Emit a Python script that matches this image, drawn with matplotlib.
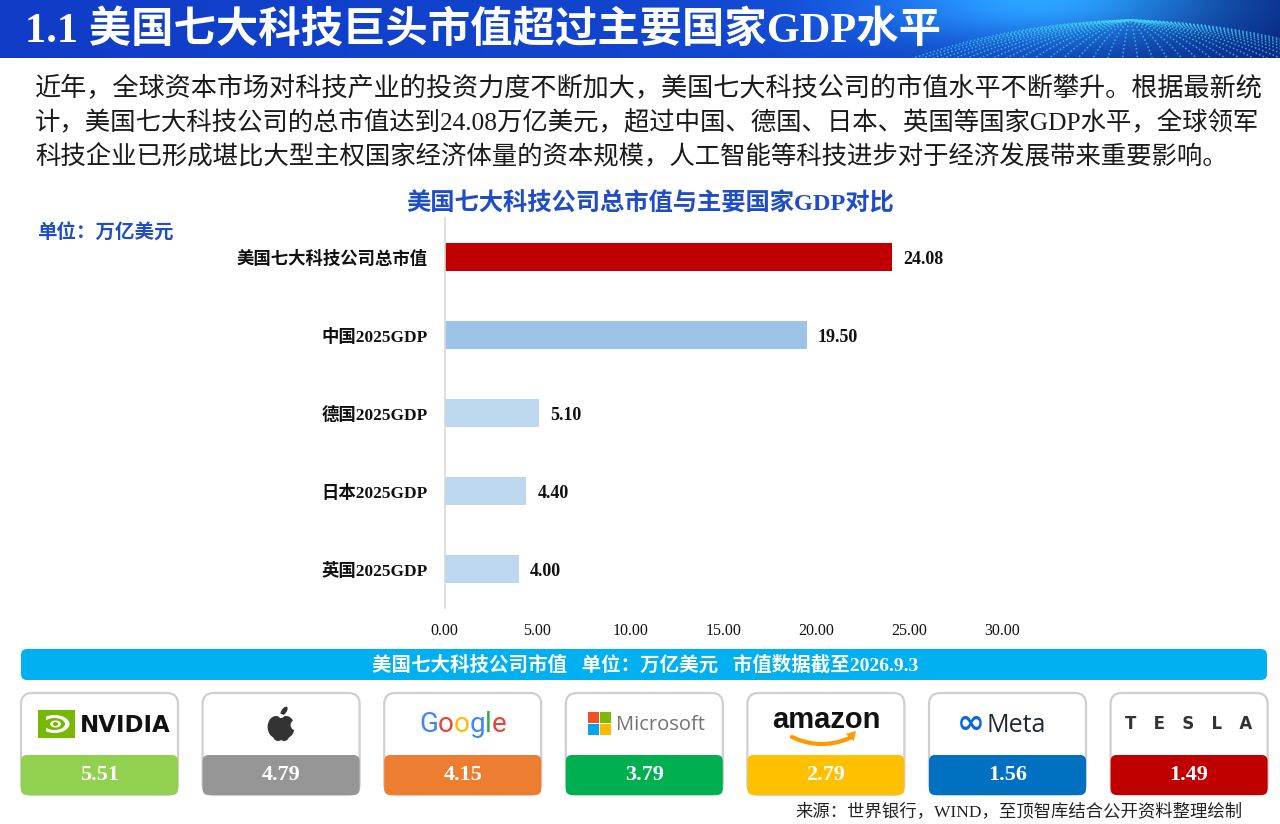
import matplotlib
matplotlib.use('Agg')
import matplotlib.pyplot as plt
import numpy as np
from matplotlib.patches import FancyBboxPatch, Rectangle, Circle, Ellipse, Polygon

plt.rcParams['font.family'] = ['Liberation Serif', 'Noto Sans CJK SC', 'DejaVu Sans']

# ---------------- data ----------------
categories = ['美国七大科技公司总市值', '中国2025GDP', '德国2025GDP', '日本2025GDP', '英国2025GDP']
values = [24.08, 19.50, 5.10, 4.40, 4.00]
bar_colors = ['#C00000', '#9DC3E6', '#BDD7EE', '#BDD7EE', '#BDD7EE']
x_ticks = [0, 5, 10, 15, 20, 25, 30]

companies = ['NVIDIA', 'Apple', 'Google', 'Microsoft', 'Amazon', 'Meta', 'Tesla']
company_caps = [5.51, 4.79, 4.15, 3.79, 2.79, 1.56, 1.49]
company_colors = ['#92D050', '#969696', '#ED7D31', '#00B050', '#FFC000', '#0070C0', '#C00000']

page_title = '1.1 美国七大科技巨头市值超过主要国家GDP水平'
paragraph = [
    '近年，全球资本市场对科技产业的投资力度不断加大，美国七大科技公司的市值水平不断攀升。根据最新统',
    '计，美国七大科技公司的总市值达到24.08万亿美元，超过中国、德国、日本、英国等国家GDP水平，全球领军',
    '科技企业已形成堪比大型主权国家经济体量的资本规模，人工智能等科技进步对于经济发展带来重要影响。',
]
paragraph_sizes = [18.8, 18.3, 18.3]
chart_title = '美国七大科技公司总市值与主要国家GDP对比'
unit_label = '单位：万亿美元'
banner_text = '美国七大科技公司市值   单位：万亿美元   市值数据截至2026.9.3'
source_text = '来源：世界银行，WIND，至顶智库结合公开资料整理绘制'

# ---------------- figure ----------------
W, H = 1280, 824
fig = plt.figure(figsize=(12.8, 8.24), dpi=100)
fig.patch.set_facecolor('white')
bg = fig.add_axes([0, 0, 1, 1])
bg.set_xlim(0, W)
bg.set_ylim(H, 0)
bg.axis('off')
renderer = fig.canvas.get_renderer()

# header gradient
hh = 58
gx = np.linspace(0, 1, W)[None, :]
gy = np.linspace(0, 1, hh)[:, None]
c_left = np.array([16, 60, 200]) / 255
c_mid = np.array([18, 72, 208]) / 255
c_right = np.array([8, 38, 130]) / 255
t1 = np.clip(gx / 0.65, 0, 1)[..., None]
t2 = np.clip((gx - 0.65) / 0.35, 0, 1)[..., None]
base = np.where(gx[..., None] < 0.65, c_left * (1 - t1) + c_mid * t1, c_mid * (1 - t2) + c_right * t2)
base = np.broadcast_to(base, (hh, W, 3)).copy()
glow = np.exp(-(((gx - 0.82) * W) / 170) ** 2 - ((gy * hh) / 45) ** 2)[..., None]
img = np.clip(base + glow * np.array([0.12, 0.42, 0.35]), 0, 1)
bg.imshow(img, extent=[0, W, hh, 0], aspect='auto', zorder=0)

# dotted globe in header
clip_rect = Rectangle((0, 0), W, hh, transform=bg.transData)
cx, cy, R = 1130, 330, 310
for lon in np.linspace(-75, 75, 34):
    lat = np.linspace(55, 90, 80)
    lr, tr = np.radians(lon), np.radians(lat)
    px = cx + R * np.cos(tr) * np.sin(lr) * 1.6
    py = cy - R * np.sin(tr) + 40 * np.cos(tr) * np.cos(lr)
    ln, = bg.plot(px, py, linestyle=(0, (1, 1.5)), color='#45D3F5', lw=1.1, alpha=0.75, zorder=1)
    ln.set_clip_path(clip_rect)

bg.text(25, 30, page_title, color='white', fontsize=30.5, fontweight='bold',
        ha='left', va='center', zorder=3)

# paragraph
for i, (line, fs) in enumerate(zip(paragraph, paragraph_sizes)):
    bg.text(35, 89 + i * 34, line, fontsize=fs, color='#1A1A1A', ha='left', va='center')

# chart title and unit
title_blue = '#1F4CC8'
bg.text(650, 204, chart_title, fontsize=17.5, fontweight='bold', color=title_blue, ha='center', va='center')
bg.text(37, 233, unit_label, fontsize=14, fontweight='bold', color=title_blue, ha='left', va='center')

# ---------------- bar chart ----------------
x0px, x1px, ytop, ybot = 444.5, 1002, 218, 608
ax = fig.add_axes([x0px / W, 1 - ybot / H, (x1px - x0px) / W, (ybot - ytop) / H])
ax.patch.set_alpha(0)
ypos = np.arange(len(categories))
ax.barh(ypos, values, height=0.36, color=bar_colors, zorder=2)
ax.set_xlim(x_ticks[0], x_ticks[-1])
ax.set_ylim(len(categories) - 0.5, -0.5)
ax.set_xticks(x_ticks)
ax.set_xticklabels([f'{v:.2f}' for v in x_ticks])
ax.set_yticks(ypos)
ax.set_yticklabels(categories)
for s in ['top', 'right', 'bottom']:
    ax.spines[s].set_visible(False)
ax.spines['left'].set_color('#D9D9D9')
ax.spines['left'].set_linewidth(1.2)
ax.tick_params(axis='x', length=0, pad=11, labelsize=11.5, labelcolor='#111111')
ax.tick_params(axis='y', length=0, pad=12, labelsize=12.5, labelcolor='#111111')
for lab in ax.get_yticklabels():
    lab.set_fontweight('bold')
for v, yv in zip(values, ypos):
    ax.annotate(f'{v:.2f}', (v, yv), xytext=(8, -2), textcoords='offset points',
                ha='left', va='center', fontsize=13, fontweight='bold', color='#111111')

# ---------------- banner ----------------
bg.add_patch(FancyBboxPatch((21, 649), 1246, 31, boxstyle='round,pad=0,rounding_size=6',
                            fc='#00B0F0', ec='none', zorder=2))
bg.text(645, 665, banner_text, color='white', fontsize=14, fontweight='bold',
        ha='center', va='center', zorder=3)

# ---------------- company cards ----------------
card_w, card_top, card_bot, split = 157, 693, 795, 755
centers = 99.5 + np.arange(len(companies)) * 181.6
logo_y = 724


def text_width(s, **kw):
    t = bg.text(0, 0, s, **kw)
    w = t.get_window_extent(renderer).width
    t.remove()
    return w


def logo_nvidia(c):
    bx, by, bw, bh = c - 62, 710, 37, 28
    bg.add_patch(Rectangle((bx, by), bw, bh, fc='#76B900', ec='none', zorder=4))
    ex, ey = bx + 17, by + 14
    bg.add_patch(Ellipse((ex, ey), 30, 18, fc='white', ec='none', zorder=5))
    bg.add_patch(Ellipse((ex, ey), 21, 12, fc='#76B900', ec='none', zorder=6))
    bg.add_patch(Ellipse((ex + 1, ey), 11, 7, fc='white', ec='none', zorder=7))
    bg.add_patch(Ellipse((ex + 1, ey), 5, 4, fc='#76B900', ec='none', zorder=8))
    bg.add_patch(Rectangle((bx, by), 8, bh, fc='#76B900', ec='none', zorder=8))
    bg.text(c - 20, logo_y + 1, 'NVIDIA', family='DejaVu Sans', fontweight='heavy',
            fontsize=16.5, color='#111111', ha='left', va='center', zorder=5)


def logo_apple(c):
    col = '#333333'
    bg.add_patch(Ellipse((c - 5, logo_y + 3), 17, 22, fc=col, ec='none', zorder=4))
    bg.add_patch(Ellipse((c + 5, logo_y + 3), 17, 22, fc=col, ec='none', zorder=4))
    bg.add_patch(Ellipse((c - 3, logo_y + 12), 10, 10, fc=col, ec='none', zorder=4))
    bg.add_patch(Ellipse((c + 3, logo_y + 12), 10, 10, fc=col, ec='none', zorder=4))
    bg.add_patch(Circle((c + 15, logo_y + 1), 5.5, fc='white', ec='none', zorder=5))
    bg.add_patch(Ellipse((c, logo_y - 8), 5, 4, fc='white', ec='none', zorder=5))
    bg.add_patch(Ellipse((c + 3, logo_y - 13), 5, 10, angle=35, fc=col, ec='none', zorder=4))


def logo_google(c):
    letters = 'Google'
    cols = ['#4285F4', '#EA4335', '#FBBC05', '#4285F4', '#34A853', '#EA4335']
    kw = dict(family='Roboto', fontsize=20)
    widths = [text_width(ch, **kw) for ch in letters]
    x = c - sum(widths) / 2
    for ch, col, w in zip(letters, cols, widths):
        bg.text(x, logo_y, ch, color=col, ha='left', va='center', zorder=5, **kw)
        x += w


def logo_microsoft(c):
    sq = 11
    cols = ['#F25022', '#7FBA00', '#00A4EF', '#FFB900']
    sx, sy = c - 56, logo_y - 12
    for k, col in enumerate(cols):
        bg.add_patch(Rectangle((sx + (k % 2) * (sq + 1), sy + (k // 2) * (sq + 1)), sq, sq,
                               fc=col, ec='none', zorder=5))
    bg.text(c - 28, logo_y + 1, 'Microsoft', family='Open Sans', fontsize=14.5,
            color='#737373', ha='left', va='center', zorder=5)


def logo_amazon(c):
    bg.text(c, logo_y - 4, 'amazon', family='Liberation Sans', fontweight='bold',
            fontsize=21, color='#111111', ha='center', va='center', zorder=5)
    xs = np.linspace(-34, 26, 60)
    ys = 737 + 7 * (1 - ((xs + 4) / 30) ** 2)
    bg.plot(c + xs, ys, color='#FF9900', lw=3, solid_capstyle='round', zorder=5)
    ex, ey = c + xs[-1], ys[-1]
    bg.add_patch(Polygon([[ex - 6, ey - 3], [ex + 4, ey - 6], [ex + 2, ey + 4]],
                         closed=True, fc='#FF9900', ec='none', zorder=5))


def logo_meta(c):
    bg.text(c - 37, logo_y - 1, '∞', family='DejaVu Sans', fontweight='bold', fontsize=24,
            color='#0668E1', ha='center', va='center', zorder=5)
    bg.text(c - 21, logo_y + 1, 'Meta', family='Open Sans', fontsize=18,
            color='#1C2B33', ha='left', va='center', zorder=5)


def logo_tesla(c):
    bg.text(c, logo_y, 'T   E   S   L   A', family='DejaVu Sans', fontweight='bold',
            fontsize=12, color='#333333', ha='center', va='center', zorder=5)


logo_funcs = [logo_nvidia, logo_apple, logo_google, logo_microsoft, logo_amazon, logo_meta, logo_tesla]

for c, cap, col, fn in zip(centers, company_caps, company_colors, logo_funcs):
    x0 = c - card_w / 2
    bg.add_patch(FancyBboxPatch((x0, card_top), card_w, card_bot - card_top,
                                boxstyle='round,pad=0,rounding_size=11',
                                fc='white', ec='#CFCFCF', lw=1.6, zorder=2))
    bg.add_patch(FancyBboxPatch((x0, split), card_w, card_bot - split,
                                boxstyle='round,pad=0,rounding_size=6',
                                fc=col, ec='none', zorder=3))
    bg.text(c, 775, f'{cap:.2f}', color='white', fontsize=16, fontweight='bold',
            ha='center', va='center', zorder=4)
    fn(c)

# source
bg.text(1243, 812, source_text, fontsize=12.5, color='#222222', ha='right', va='center')

fig.savefig('out.png', dpi=100, facecolor='white')
